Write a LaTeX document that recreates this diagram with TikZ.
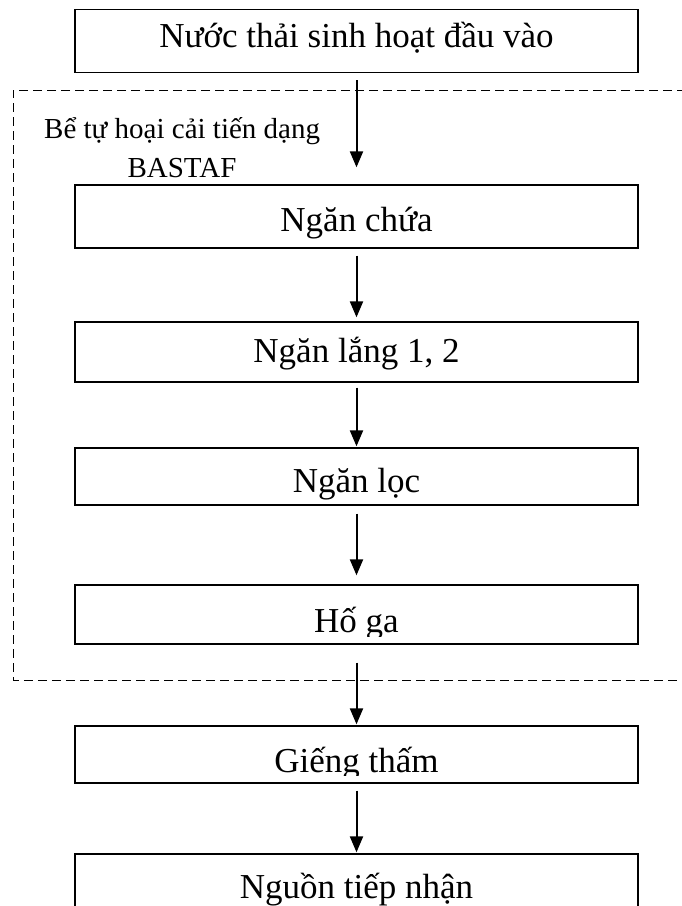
\documentclass[tikz,border=0pt]{standalone}
\usepackage{fontspec}
\setmainfont{Liberation Serif}
\usetikzlibrary{arrows.meta}

% one unit = 1pt, y grows downward
\tikzset{
  x=1pt, y=-1pt,
  stage/.style={draw, line width=1.3pt, minimum width=563pt, inner sep=0pt},
  flow/.style={line width=2pt, -{Triangle[width=13pt,length=16pt]}},
  frame/.style={line width=1pt, dash pattern=on 9pt off 5pt},
  stagetext/.style={anchor=base, inner sep=0pt, font=\fontsize{35}{38}\selectfont},
  note/.style={inner sep=0pt, font=\fontsize{29}{32}\selectfont}
}

% text of a stage, cut off at the text area of its box
% #1 box, #2 name, #3 baseline, #4 lift of the lower cut, #5 text
\newcommand{\stagelabel}[5]{%
  \begin{scope}
    \clip (#1.north west) rectangle ([yshift=#4]#1.south east);
    \node[stagetext] (#2) at (356.5,#3) {#5};
  \end{scope}}

\begin{document}
\begin{tikzpicture}
\useasboundingbox (0,0) rectangle (681,906);

% dashed outline of the BASTAF septic tank
\draw[frame] (700,90) -- (13,90) -- (13,680) -- (700,680);
\node[note, anchor=base west] (tank) at (44,138) {Bể tự hoại cải tiến dạng};
\node[note, anchor=base] (tank2) at (182,177) {BASTAF};

% process stages
\node[stage, minimum height=63pt] (inlet) at (356.5,41) {};
\node[stage, minimum height=63pt] (chua)  at (356.5,216.5) {};
\node[stage, minimum height=60pt] (lang)  at (356.5,352) {};
\node[stage, minimum height=57pt] (loc)   at (356.5,476.5) {};
\node[stage, minimum height=59pt] (hoga)  at (356.5,614.5) {};
\node[stage, minimum height=57pt] (gieng) at (356.5,754.5) {};
\node[stage, minimum height=70pt] (nguon) at (356.5,889) {};

\stagelabel{inlet}{inlet-t}{47}{0pt}{Nước thải sinh hoạt đầu vào}
\stagelabel{chua}{chua-t}{231}{0pt}{Ngăn chứa}
\stagelabel{lang}{lang-t}{362}{0pt}{Ngăn lắng 1, 2}
\stagelabel{loc}{loc-t}{492}{0pt}{Ngăn lọc}
\stagelabel{hoga}{hoga-t}{632}{8pt}{Hố ga}
\stagelabel{gieng}{gieng-t}{772}{8pt}{Giếng thấm}
\stagelabel{nguon}{nguon-t}{898}{0pt}{Nguồn tiếp nhận}

% flow between stages
\draw[flow] ([yshift=-7pt]inlet.south) -- ([yshift=17pt]chua.north);
\draw[flow] ([yshift=-7pt]chua.south)  -- ([yshift=4pt]lang.north);
\draw[flow] ([yshift=-5pt]lang.south)  -- ([yshift=1pt]loc.north);
\draw[flow] ([yshift=-8pt]loc.south)   -- ([yshift=9pt]hoga.north);
\draw[flow] ([yshift=-18pt]hoga.south) -- ([yshift=1pt]gieng.north);
\draw[flow] ([yshift=-7pt]gieng.south) -- ([yshift=1pt]nguon.north);
\end{tikzpicture}
\end{document}
